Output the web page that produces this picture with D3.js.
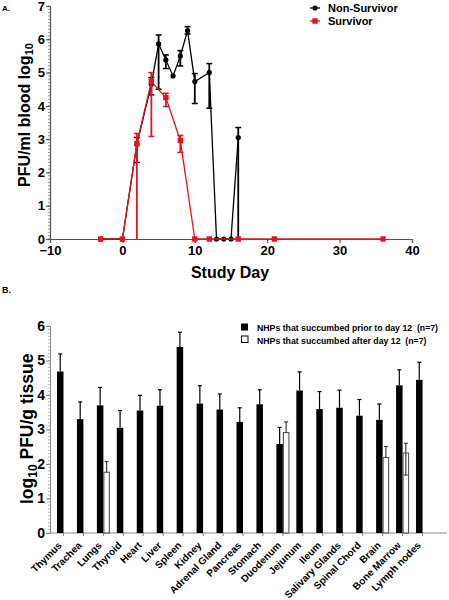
<!DOCTYPE html>
<html>
<head>
<meta charset="utf-8">
<script src="https://cdn.jsdelivr.net/npm/d3@7"></script>
<style>
  html, body { margin: 0; padding: 0; background: #fff; }
  svg { display: block; font-family: "Liberation Sans", Arial, sans-serif; }
</style>
</head>
<body>
<svg id="chart" width="449" height="600"></svg>
<script>
// ---------- Panel A data ----------
const daysNonSurvivor = [-3, 0, 2, 4, 5, 6, 7, 8, 9, 10, 12, 13, 14, 15, 16];
const meanNonSurvivor = [0, 0, 2.85, 4.65, 5.86, 5.38, 4.9, 5.5, 6.26, 4.73, 5.0, 0, 0, 0, 3.05];
const hiNonSurvivor   = [null, null, 3.05, 4.85, 6.13, 5.53, null, 5.66, 6.38, 4.97, 5.27, null, null, null, 3.35];
const loNonSurvivor   = [null, null, 2.3, 4.33, 4.5, 5.12, null, 5.2, 6.16, 4.07, 3.93, null, null, null, 0];

const daysSurvivor = [-3, 0, 2, 4, 6, 8, 10, 12, 16, 21, 36];
const meanSurvivor = [0, 0, 2.87, 4.73, 4.25, 2.96, 0, 0, 0, 0, 0];
const hiSurvivor   = [null, null, 3.17, 5.0, 4.38, 3.11, null, null, null, null, null];
const loSurvivor   = [null, null, 0, 3.08, 3.98, 2.6, null, null, null, null, null];

const xTicksA = [-10, 0, 10, 20, 30, 40];
const yTicksA = [0, 1, 2, 3, 4, 5, 6, 7];
const legendA = ["Non-Survivor", "Survivor"];

// ---------- Panel B data ----------
const organs = ["Thymus", "Trachea", "Lungs", "Thyroid", "Heart", "Liver", "Spleen", "Kidney",
  "Adrenal Gland", "Pancreas", "Stomach", "Duodenum", "Jejunum", "Ileum", "Salivary Glands",
  "Spinal Chord", "Brain", "Bone Marrow", "Lymph nodes"];
const meanEarly = [4.68, 3.30, 3.70, 3.05, 3.55, 3.69, 5.39, 3.75, 3.58, 3.22, 3.73, 2.58, 4.13, 3.59, 3.63, 3.40, 3.28, 4.28, 4.44];
const semEarly  = [0.51, 0.50, 0.52, 0.50, 0.44, 0.46, 0.43, 0.52, 0.45, 0.41, 0.42, 0.48, 0.54, 0.51, 0.51, 0.47, 0.46, 0.45, 0.51];
const meanLate  = [null, null, 1.76, null, null, null, null, null, null, null, null, 2.91, null, null, null, null, 2.19, 2.32, null];
const semLate   = [null, null, 0.31, null, null, null, null, null, null, null, null, 0.31, null, null, null, null, 0.32, 0.28, null];
const lowLate   = [null, null, null, null, null, null, null, null, null, null, null, null, null, null, null, null, null, 1.68, null];
const yTicksB = [0, 1, 2, 3, 4, 5, 6];
const legendB = ["NHPs that succumbed prior to day 12 \u00a0(n=7)", "NHPs that succumbed after day 12 \u00a0(n=7)"];

const RED = "#e8121c";
const AXIS = "#555";
const svg = d3.select("#chart");

// ================= Panel A =================
const xA = d3.scaleLinear().domain([-10, 40]).range([50, 412]);
const yA = d3.scaleLinear().domain([0, 7]).range([239, 6]);

svg.append("text").attr("x", 2).attr("y", 11).attr("font-size", 8).attr("font-weight", "bold").text("A.");

const gA = svg.append("g");
gA.selectAll("line.minor").data(d3.range(0, 7.001, 0.1)).join("line")
  .attr("x1", xA(-10) - 2).attr("x2", xA(-10))
  .attr("y1", d => yA(d)).attr("y2", d => yA(d))
  .attr("stroke", AXIS).attr("stroke-width", 0.6);

const axYA = gA.append("g").attr("transform", `translate(${xA(-10)},0)`)
  .call(d3.axisLeft(yA).tickValues(yTicksA).tickSize(4).tickFormat(d3.format("d")));
const axXA = gA.append("g").attr("transform", `translate(0,${yA(0)})`)
  .call(d3.axisBottom(xA).tickValues(xTicksA).tickSize(4).tickFormat(d3.format("d")));
[axYA, axXA].forEach(a => {
  a.selectAll("path").attr("stroke", AXIS).attr("stroke-width", 1.2);
  a.selectAll("line").attr("stroke", AXIS).attr("stroke-width", 1.2);
  a.selectAll("text").attr("fill", "#000").attr("font-size", 13).attr("font-weight", "bold")
    .attr("font-family", "Liberation Sans, Arial, sans-serif");
});
axYA.selectAll("text").attr("x", -5);
axXA.selectAll("text").attr("y", 7);

svg.append("text").attr("x", 230).attr("y", 278).attr("text-anchor", "middle")
  .attr("font-size", 16).attr("font-weight", "bold").text("Study Day");
const tA = svg.append("text").attr("transform", "translate(30,115) rotate(-90)")
  .attr("text-anchor", "middle").attr("font-size", 16).attr("font-weight", "bold");
tA.append("tspan").text("PFU/ml blood log");
tA.append("tspan").attr("font-size", 11).attr("baseline-shift", "-30%").text("10");

function drawSeries(days, mean, hi, lo, color, marker) {
  const pts = days.map((d, i) => ({ x: d, y: mean[i], hi: hi[i], lo: lo[i] }));
  const g = svg.append("g");
  g.append("path").datum(pts)
    .attr("d", d3.line().x(d => xA(d.x)).y(d => yA(d.y)))
    .attr("fill", "none").attr("stroke", color).attr("stroke-width", 1.3);
  const eb = pts.filter(d => d.hi !== null);
  g.selectAll("line.v").data(eb).join("line")
    .attr("x1", d => xA(d.x)).attr("x2", d => xA(d.x))
    .attr("y1", d => yA(d.lo)).attr("y2", d => yA(d.hi))
    .attr("stroke", color).attr("stroke-width", 1.8);
  g.selectAll("line.ch").data(eb).join("line")
    .attr("x1", d => xA(d.x) - 3).attr("x2", d => xA(d.x) + 3)
    .attr("y1", d => yA(d.hi)).attr("y2", d => yA(d.hi))
    .attr("stroke", color).attr("stroke-width", 1.5);
  g.selectAll("line.cl").data(eb.filter(d => d.lo > 0)).join("line")
    .attr("x1", d => xA(d.x) - 3).attr("x2", d => xA(d.x) + 3)
    .attr("y1", d => yA(d.lo)).attr("y2", d => yA(d.lo))
    .attr("stroke", color).attr("stroke-width", 1.5);
  if (marker === "circle") {
    g.selectAll("circle").data(pts).join("circle")
      .attr("cx", d => xA(d.x)).attr("cy", d => yA(d.y)).attr("r", 2.6).attr("fill", color);
  } else {
    g.selectAll("rect").data(pts).join("rect")
      .attr("x", d => xA(d.x) - 2.7).attr("y", d => yA(d.y) - 2.7)
      .attr("width", 5.4).attr("height", 5.4).attr("fill", color);
  }
}
drawSeries(daysNonSurvivor, meanNonSurvivor, hiNonSurvivor, loNonSurvivor, "#000", "circle");
drawSeries(daysSurvivor, meanSurvivor, hiSurvivor, loSurvivor, RED, "square");

const lgA = svg.append("g");
lgA.append("line").attr("x1", 310).attr("x2", 320).attr("y1", 8).attr("y2", 8).attr("stroke", "#000").attr("stroke-width", 1.3);
lgA.append("circle").attr("cx", 315).attr("cy", 8).attr("r", 2.6).attr("fill", "#000");
lgA.append("line").attr("x1", 310).attr("x2", 320).attr("y1", 21).attr("y2", 21).attr("stroke", RED).attr("stroke-width", 1.3);
lgA.append("rect").attr("x", 312.3).attr("y", 18.3).attr("width", 5.4).attr("height", 5.4).attr("fill", RED);
lgA.selectAll("text").data(legendA).join("text")
  .attr("x", 328).attr("y", (d, i) => 12 + i * 13)
  .attr("font-size", 11).attr("font-weight", "bold").text(d => d);

// ================= Panel B =================
svg.append("text").attr("x", 2).attr("y", 293).attr("font-size", 9).attr("font-weight", "bold").text("B.");

const xB = d3.scaleBand().domain(organs).range([50, 436]).paddingInner(0.348).paddingOuter(0.35);
const yB = d3.scaleLinear().domain([0, 6]).range([533, 326]);
const bw = xB.bandwidth() / 2;

const gB = svg.append("g");
gB.selectAll("line.minor").data(d3.range(0, 6.001, 0.1)).join("line")
  .attr("x1", 48).attr("x2", 50)
  .attr("y1", d => yB(d)).attr("y2", d => yB(d))
  .attr("stroke", "#888").attr("stroke-width", 0.6);
const axYB = gB.append("g").attr("transform", "translate(50,0)")
  .call(d3.axisLeft(yB).tickValues(yTicksB).tickSize(4).tickFormat(d3.format("d")));
axYB.selectAll("path").attr("stroke", "#888").attr("stroke-width", 1);
axYB.selectAll("line").attr("stroke", "#888").attr("stroke-width", 1);
axYB.selectAll("text").attr("fill", "#000").attr("font-size", 14).attr("font-weight", "bold")
  .attr("font-family", "Liberation Sans, Arial, sans-serif").attr("x", -5);

gB.append("line").attr("x1", 50).attr("x2", 447).attr("y1", yB(0)).attr("y2", yB(0))
  .attr("stroke", "#888").attr("stroke-width", 1);
gB.selectAll("line.xt").data(organs).join("line")
  .attr("x1", d => xB(d) + bw).attr("x2", d => xB(d) + bw)
  .attr("y1", yB(0)).attr("y2", yB(0) + 3)
  .attr("stroke", "#888").attr("stroke-width", 1);
gB.selectAll("text.xl").data(organs).join("text")
  .attr("transform", d => `translate(${xB(d) + bw - 1},${yB(0) + 13}) rotate(-45)`)
  .attr("text-anchor", "end").attr("font-size", 10).attr("font-weight", "bold")
  .text(d => d);

const early = organs.map((o, i) => ({ o, m: meanEarly[i], s: semEarly[i] }));
gB.selectAll("rect.early").data(early).join("rect")
  .attr("x", d => xB(d.o)).attr("y", d => yB(d.m))
  .attr("width", bw).attr("height", d => yB(0) - yB(d.m)).attr("fill", "#000");
gB.selectAll("line.ee").data(early).join("line")
  .attr("x1", d => xB(d.o) + bw / 2).attr("x2", d => xB(d.o) + bw / 2)
  .attr("y1", d => yB(d.m)).attr("y2", d => yB(d.m + d.s))
  .attr("stroke", "#000").attr("stroke-width", 1.2);
gB.selectAll("line.ec").data(early).join("line")
  .attr("x1", d => xB(d.o) + bw / 2 - 2).attr("x2", d => xB(d.o) + bw / 2 + 2)
  .attr("y1", d => yB(d.m + d.s)).attr("y2", d => yB(d.m + d.s))
  .attr("stroke", "#000").attr("stroke-width", 1.2);

const late = organs.map((o, i) => ({ o, m: meanLate[i], s: semLate[i], lo: lowLate[i] })).filter(d => d.m !== null);
gB.selectAll("rect.late").data(late).join("rect")
  .attr("x", d => xB(d.o) + bw + 0.5).attr("y", d => yB(d.m))
  .attr("width", bw - 1).attr("height", d => yB(0) - yB(d.m))
  .attr("fill", "#fff").attr("stroke", "#555").attr("stroke-width", 1.1);
gB.selectAll("line.le").data(late).join("line")
  .attr("x1", d => xB(d.o) + bw * 1.5).attr("x2", d => xB(d.o) + bw * 1.5)
  .attr("y1", d => yB(d.lo !== null ? d.lo : d.m)).attr("y2", d => yB(d.m + d.s))
  .attr("stroke", "#333").attr("stroke-width", 1.1);
gB.selectAll("line.lc").data(late).join("line")
  .attr("x1", d => xB(d.o) + bw * 1.5 - 2).attr("x2", d => xB(d.o) + bw * 1.5 + 2)
  .attr("y1", d => yB(d.m + d.s)).attr("y2", d => yB(d.m + d.s))
  .attr("stroke", "#333").attr("stroke-width", 1.1);
gB.selectAll("line.lcl").data(late.filter(d => d.lo !== null)).join("line")
  .attr("x1", d => xB(d.o) + bw * 1.5 - 2).attr("x2", d => xB(d.o) + bw * 1.5 + 2)
  .attr("y1", d => yB(d.lo)).attr("y2", d => yB(d.lo))
  .attr("stroke", "#333").attr("stroke-width", 1.1);

const tB = svg.append("text").attr("transform", "translate(33,504) rotate(-90)")
  .attr("text-anchor", "start").attr("font-size", 17.5).attr("font-weight", "bold");
tB.append("tspan").text("log");
tB.append("tspan").attr("font-size", 12).attr("baseline-shift", "-30%").text("10");
tB.append("tspan").text("\u00a0PFU/g tissue");

const lgB = svg.append("g");
lgB.append("rect").attr("x", 241).attr("y", 323.5).attr("width", 7).attr("height", 7).attr("fill", "#000");
lgB.append("rect").attr("x", 241.5).attr("y", 336).attr("width", 6.5).attr("height", 6.5)
  .attr("fill", "#fff").attr("stroke", "#000").attr("stroke-width", 1);
lgB.selectAll("text").data(legendB).join("text")
  .attr("transform", (d, i) => `translate(257,${331 + i * 12.5}) scale(0.92,1)`)
  .attr("font-size", 9.5).attr("font-weight", "bold")
  .text(d => d);
</script>
</body>
</html>
